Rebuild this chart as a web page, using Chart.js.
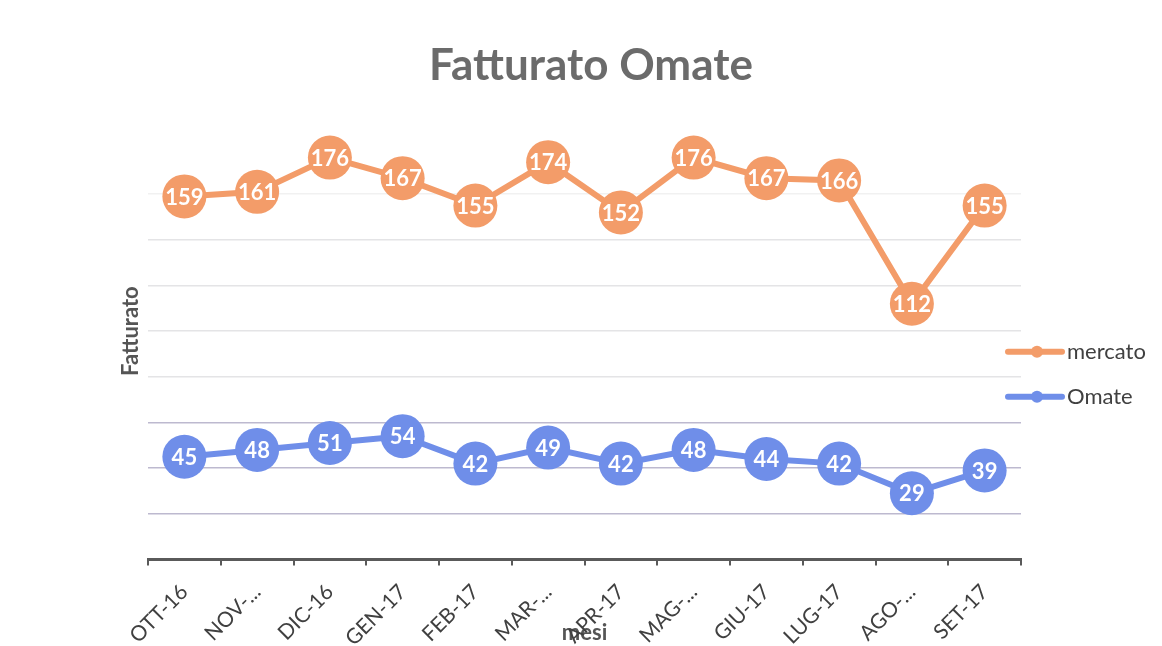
<!DOCTYPE html>
<html><head><meta charset="utf-8">
<script src="https://cdn.jsdelivr.net/npm/chart.js@4.4.0/dist/chart.umd.min.js"></script>
<style>html,body{margin:0;padding:0;background:#fff;}#wrap{width:1162px;height:646px;}</style>
</head><body><div id="wrap"><canvas id="c" width="1162" height="646"></canvas></div>
<script>
const categories = ['OTT-16','NOV-...','DIC-16','GEN-17','FEB-17','MAR-...','APR-17','MAG-...','GIU-17','LUG-17','AGO-...','SET-17'];
const mercato = [159,161,176,167,155,174,152,176,167,166,112,155];
const omate = [45,48,51,54,42,49,42,48,44,42,29,39];
const seriesNames = ['mercato','Omate'];
const seriesColors = ['#F39C69','#6F8EE9'];
const yMin = 0, yMax = 200, yStep = 20;

const FONT = 'Lato, "Open Sans", sans-serif';

const valueLabels = {
  id: 'valueLabels',
  afterDatasetsDraw(chart) {
    const ctx = chart.ctx;
    ctx.save();
    ctx.fillStyle = '#ffffff';
    ctx.font = 'bold 22px ' + FONT;
    ctx.textAlign = 'center';
    ctx.textBaseline = 'middle';
    chart.data.datasets.forEach((ds, i) => {
      const meta = chart.getDatasetMeta(i);
      meta.data.forEach((pt, j) => {
        ctx.fillText(String(ds.data[j]), pt.x, pt.y + 1);
      });
    });
    ctx.restore();
  }
};

const sideLegend = {
  id: 'sideLegend',
  beforeInit(chart) {
    const box = {
      position: 'right', weight: 10, fullSize: false, options: {},
      left: 0, top: 0, right: 0, bottom: 0, width: 0, height: 0,
      isHorizontal() { return false; },
      update(maxW, maxH) { this.width = 141; this.height = maxH; },
      draw() {
        const ctx = chart.ctx;
        const ca = chart.chartArea;
        ctx.save();
        chart.data.datasets.forEach((ds, i) => {
          const y = ca.top + 249 + i * 45;
          const x0 = this.left - 13;
          ctx.strokeStyle = ds.borderColor;
          ctx.lineWidth = 6;
          ctx.lineCap = 'round';
          ctx.beginPath();
          ctx.moveTo(x0, y);
          ctx.lineTo(x0 + 54, y);
          ctx.stroke();
          ctx.fillStyle = ds.borderColor;
          ctx.beginPath();
          ctx.arc(x0 + 29, y, 6, 0, Math.PI * 2);
          ctx.fill();
          ctx.fillStyle = '#404040';
          ctx.font = '22px ' + FONT;
          ctx.textAlign = 'left';
          ctx.textBaseline = 'middle';
          ctx.fillText(ds.label, x0 + 59, y);
        });
        ctx.restore();
      }
    };
    Chart.layouts.addBox(chart, box);
  }
};

function gridColor(ctx) {
  const v = ctx.tick ? ctx.tick.value : 0;
  if (v >= 180) return 'rgba(0,0,0,0)';
  if (v >= 160) return '#f1f1f1';
  if (v >= 80) return '#e4e4e6';
  return '#bdb9cf';
}

new Chart(document.getElementById('c'), {
  type: 'line',
  data: {
    labels: categories,
    datasets: [
      { label: seriesNames[0], data: mercato, borderColor: seriesColors[0], backgroundColor: seriesColors[0],
        pointBackgroundColor: seriesColors[0], pointBorderWidth: 0, pointRadius: 22, borderWidth: 6, tension: 0 },
      { label: seriesNames[1], data: omate, borderColor: seriesColors[1], backgroundColor: seriesColors[1],
        pointBackgroundColor: seriesColors[1], pointBorderWidth: 0, pointRadius: 22, borderWidth: 6, tension: 0 }
    ]
  },
  options: {
    responsive: false,
    animation: false,
    devicePixelRatio: 1,
    layout: { padding: { left: 20, right: 0, top: 0, bottom: 0 } },
    plugins: {
      legend: { display: false },
      tooltip: { enabled: false },
      title: {
        display: true, text: 'Fatturato Omate', color: '#6b6b6b',
        font: { family: FONT, size: 44, weight: 'bold' },
        padding: { top: 39, bottom: 11 }
      }
    },
    scales: {
      x: {
        offset: true,
        grid: { offset: true, drawOnChartArea: false, drawTicks: true, tickLength: 6, color: '#5a5a5a', lineWidth: 2 },
        border: { display: true, color: '#5a5a5a', width: 3 },
        ticks: { autoSkip: false, minRotation: 45, maxRotation: 45, padding: 14, color: '#404040',
                 font: { family: FONT, size: 21 } },
        title: { display: true, text: 'mesi', color: '#555555', font: { family: FONT, size: 22, weight: 'bold' },
                 padding: { top: 0, bottom: 0 } },
        afterFit(s) { s.height = 86.5; }
      },
      y: {
        min: yMin, max: yMax,
        ticks: { display: false, stepSize: yStep },
        grid: { drawTicks: false, color: gridColor, lineWidth: 1.5 },
        border: { display: false },
        title: { display: true, text: 'Fatturato', color: '#555555', font: { family: FONT, size: 22, weight: 'bold' },
                 padding: { top: 98, bottom: 0 } },
        afterFit(s) { s.width = 128; }
      }
    }
  },
  plugins: [valueLabels, sideLegend]
});
</script>
</body></html>
